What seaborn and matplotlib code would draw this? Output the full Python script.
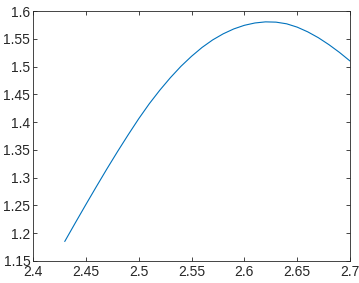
import numpy as np
import pandas as pd
import seaborn as sb
import matplotlib.pyplot as plt

# values
x_vals = [2.43, 2.44, 2.45, 2.46, 2.47, 2.48, 2.49, 2.50, 2.51, 2.52,
          2.53, 2.54, 2.55, 2.56, 2.57, 2.58, 2.59, 2.60, 2.61, 2.62,
          2.63, 2.64, 2.65, 2.66, 2.67, 2.68, 2.69, 2.70]
y_vals = [1.185, 1.2185, 1.2515, 1.284, 1.316, 1.347, 1.377, 1.406, 1.433, 1.4575,
          1.480, 1.5005, 1.5185, 1.5345, 1.548, 1.559, 1.5678, 1.5743, 1.5785, 1.5805,
          1.580, 1.577, 1.571, 1.5625, 1.552, 1.5395, 1.5255, 1.510]

x_ticks = [2.4, 2.45, 2.5, 2.55, 2.6, 2.65, 2.7]
y_ticks = [1.15, 1.2, 1.25, 1.3, 1.35, 1.4, 1.45, 1.5, 1.55, 1.6]

df = pd.DataFrame({"x": x_vals, "y": y_vals})

sb.set_style("ticks")
plt.rcParams['font.family'] = ['Liberation Sans', 'DejaVu Sans']

fig = plt.figure(figsize=(3.59, 2.83), dpi=100)
ax = fig.add_axes([0.092, 0.078, 0.883, 0.883])

sb.lineplot(data=df, x="x", y="y", color="#0072BD", linewidth=0.8, ax=ax)

ax.set_xlim(2.4, 2.7)
ax.set_ylim(1.15, 1.6)
ax.set_xticks(x_ticks)
ax.set_xticklabels([f"{t:g}" for t in x_ticks])
ax.set_yticks(y_ticks)
ax.set_yticklabels([f"{t:g}" for t in y_ticks])
ax.set_xlabel("")
ax.set_ylabel("")

for s in ax.spines.values():
    s.set_visible(True)
    s.set_color("#262626")
    s.set_linewidth(0.6)
ax.tick_params(direction="in", top=True, right=True, length=3, width=0.6,
               color="#262626", labelcolor="#262626", labelsize=10, pad=2)
ax.tick_params(axis="x", pad=3)

fig.savefig("out.png", dpi=100)
